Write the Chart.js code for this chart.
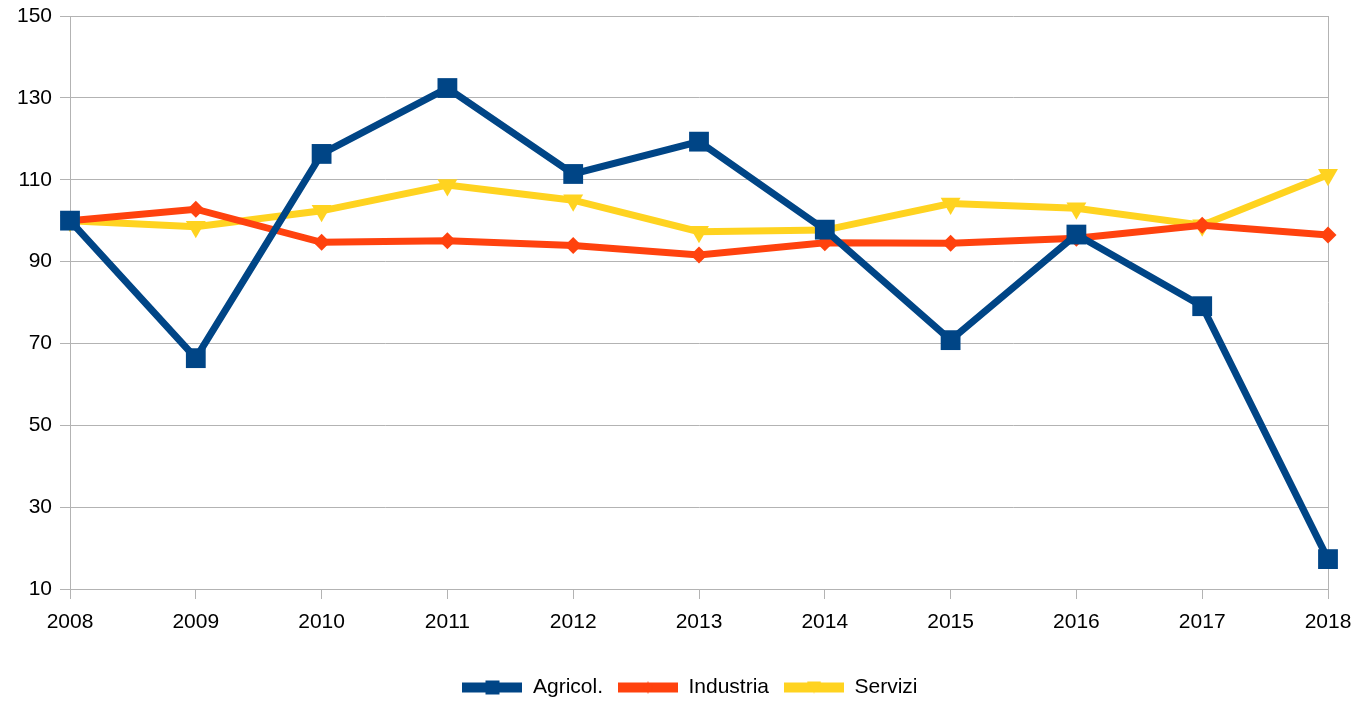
<!DOCTYPE html>
<html>
<head>
<meta charset="utf-8">
<script src="https://cdn.jsdelivr.net/npm/chart.js@4.4.1/dist/chart.umd.min.js"></script>
<style>
  html, body { margin: 0; padding: 0; background: #fff; }
  #wrap { width: 1360px; height: 705px; position: relative; }
</style>
</head>
<body>
<div id="wrap"><canvas id="grafico"></canvas></div>
<script>
// ── DATI ──
var anni      = ['2008','2009','2010','2011','2012','2013','2014','2015','2016','2017','2018'];
var agricol   = [100, 66.4, 116.3, 132.4, 111.4, 119.3, 97.8, 70.8, 96.6, 79.1, 17.3];
var industria = [100, 102.8, 94.7, 95.1, 93.9, 91.6, 94.6, 94.5, 95.7, 98.9, 96.5];
var servizi   = [100, 98.5, 102.4, 108.7, 105.0, 97.3, 97.7, 104.2, 103.0, 98.9, 111.2];
var yMin = 10, yMax = 150, yStep = 20;

var BLU = '#004586', ARANCIO = '#ff420e', GIALLO = '#ffd320';
var GRIGIO = '#b3b3b3';
var FONT = 'Liberation Sans, Arial, sans-serif';

// simbolo della legenda: linea con marcatore al centro
function simboloLegenda(colore, tipo) {
  var c = document.createElement('canvas');
  c.width = 60; c.height = 20;
  var g = c.getContext('2d');
  g.fillStyle = colore;
  g.fillRect(0, 5, 60, 10);
  g.beginPath();
  if (tipo === 'quadrato') {
    g.rect(23, 3, 14, 14);
  } else if (tipo === 'rombo') {
    g.moveTo(30, 4); g.lineTo(35, 10); g.lineTo(30, 16); g.lineTo(25, 10);
  } else {
    g.moveTo(23, 4); g.lineTo(37, 4); g.lineTo(30, 16);
  }
  g.closePath();
  g.fill();
  return c;
}
var simboli = [
  simboloLegenda(BLU, 'quadrato'),
  simboloLegenda(ARANCIO, 'rombo'),
  simboloLegenda(GIALLO, 'triangolo')
];

var ultimo = anni.length - 1;

// sposta la legenda un po' a destra, come nell'originale
var spostaLegenda = {
  id: 'spostaLegenda',
  afterLayout: function(chart) {
    if (chart.legend) { chart.legend.left += 26; chart.legend.right += 26; }
  }
};

new Chart(document.getElementById('grafico'), {
  type: 'line',
  data: {
    labels: anni,
    datasets: [
      {label: 'Agricol.', data: agricol, borderColor: BLU, backgroundColor: BLU,
       borderWidth: 7, pointStyle: 'rect', pointRadius: 14, pointBorderWidth: 0,
       pointBackgroundColor: BLU, clip: false, tension: 0},
      {label: 'Industria', data: industria, borderColor: ARANCIO, backgroundColor: ARANCIO,
       borderWidth: 7, pointStyle: 'rectRot', pointRadius: 8.5, pointBorderWidth: 0,
       pointBackgroundColor: ARANCIO, clip: false, tension: 0},
      {label: 'Servizi', data: servizi, borderColor: GIALLO, backgroundColor: GIALLO,
       borderWidth: 7, pointStyle: 'triangle', pointRotation: 180, pointRadius: 11.5, pointBorderWidth: 0,
       pointBackgroundColor: GIALLO, clip: false, tension: 0}
    ]
  },
  plugins: [spostaLegenda],
  options: {
    responsive: true, maintainAspectRatio: false, animation: false,
    layout: {padding: {left: 0, right: 32, top: 16, bottom: -3}},
    plugins: {
      tooltip: {enabled: false},
      legend: {
        position: 'bottom',
        labels: {
          color: '#000', font: {family: FONT, size: 21},
          usePointStyle: true, pointStyleWidth: 60, padding: 15,
          generateLabels: function(chart) {
            return chart.data.datasets.map(function(ds, i) {
              return {text: ds.label, pointStyle: simboli[i], fillStyle: ds.borderColor,
                      strokeStyle: ds.borderColor, lineWidth: 0, datasetIndex: i, hidden: false,
                      fontColor: '#000'};
            });
          }
        }
      }
    },
    scales: {
      x: {
        grid: {
          color: function(ctx) { return ctx.index === ultimo ? GRIGIO : 'rgba(0,0,0,0)'; },
          tickColor: GRIGIO, tickLength: 10, lineWidth: 1
        },
        border: {color: GRIGIO},
        ticks: {color: '#000', font: {family: FONT, size: 21}, padding: 11, maxRotation: 0, autoSkip: false},
        afterFit: function(s) { s.height = 73; s.paddingLeft = 0; s.paddingRight = 0; }
      },
      y: {
        min: yMin, max: yMax,
        grid: {color: GRIGIO, tickColor: GRIGIO, tickLength: 10, lineWidth: 1},
        border: {color: GRIGIO},
        ticks: {stepSize: yStep, color: '#000', font: {family: FONT, size: 21}, padding: 8},
        afterFit: function(s) { s.width = 70; s.paddingTop = 0; s.paddingBottom = 0; }
      }
    }
  }
});
</script>
</body>
</html>
